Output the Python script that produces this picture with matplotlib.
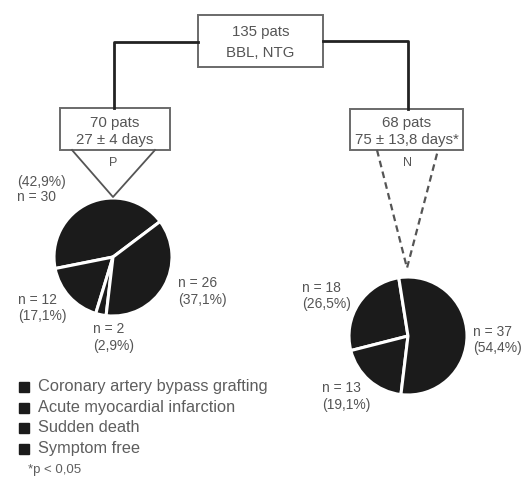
import matplotlib
matplotlib.use("Agg")
import matplotlib.pyplot as plt
from matplotlib.patches import Rectangle

plt.rcParams['font.family'] = ['Liberation Sans', 'DejaVu Sans']

# patient counts per outcome
outcomes = ["Coronary artery bypass grafting", "Acute myocardial infarction",
            "Sudden death", "Symptom free"]
left_n = [30, 12, 2, 26]
right_n = [18, 13, 37]
top_box = ["135 pats", "BBL, NTG"]
left_box = ["70 pats", "27 ± 4 days"]
right_box = ["68 pats", "75 ± 13,8 days*"]
footnote = "*p < 0,05"

W, H = 522, 487
TXT = "#555555"
PIE = "#1b1b1b"


def Y(y):
    return H - y


def pct(n, total):
    return "(" + f"{100 * n / total:.1f}".replace(".", ",") + "%)"


fig = plt.figure(figsize=(W / 100, H / 100), dpi=100)
ax = fig.add_axes([0, 0, 1, 1])


def box(x0, y0, x1, y1, lines, ty):
    ax.add_patch(Rectangle((x0, Y(y1)), x1 - x0, y1 - y0, fill=False,
                           ec="#6a6a6a", lw=1.4))
    for t, yy in zip(lines, ty):
        ax.text((x0 + x1) / 2, Y(yy), t, ha="center", va="center",
                fontsize=10.8, color=TXT)


box(198, 15, 323, 67, top_box, [32, 53])
box(60, 108, 170, 150, left_box, [123, 140])
box(350, 109, 463, 150, right_box, [123, 140])

# connectors from the top box
ax.plot([198, 114, 114], [Y(42), Y(42), Y(108)], color="#222", lw=2)
ax.plot([323, 408, 408], [Y(41), Y(41), Y(109)], color="#222", lw=2)

# arrows down to the pies
ax.plot([72, 113, 155], [Y(150), Y(197), Y(150)], color="#555", lw=1.3)
ax.plot([377, 407, 438], [Y(150), Y(268), Y(150)], color="#555", lw=1.6,
        ls=(0, (3, 2)))
ax.text(113, Y(163), "P", ha="center", va="center", fontsize=9, color=TXT)
ax.text(407, Y(163), "N", ha="center", va="center", fontsize=9, color=TXT)

# pies
ax.pie(left_n, center=(113, Y(257)), radius=59, startangle=37,
       colors=[PIE] * len(left_n), frame=True,
       wedgeprops=dict(edgecolor="white", linewidth=2.2))
ax.pie(right_n, center=(408, Y(336)), radius=59, startangle=99,
       colors=[PIE] * len(right_n), frame=True,
       wedgeprops=dict(edgecolor="white", linewidth=2.2))

lt, rt = sum(left_n), sum(right_n)
left_lab = [(17, 182, 197, True), (18, 300, 316, False),
            (93, 329, 346, False), (178, 283, 300, False)]
for n, (x, y1, y2, swap) in zip(left_n, left_lab):
    a, b = f"n = {n}", pct(n, lt)
    if swap:
        a, b = b, a
    ax.text(x, Y(y1), a, ha="left", va="center", fontsize=10, color=TXT)
    ax.text(x, Y(y2), b, ha="left", va="center", fontsize=10, color=TXT)

right_lab = [(302, 288, 304), (322, 388, 405), (473, 332, 348)]
for n, (x, y1, y2) in zip(right_n, right_lab):
    ax.text(x, Y(y1), f"n = {n}", ha="left", va="center", fontsize=10, color=TXT)
    ax.text(x, Y(y2), pct(n, rt), ha="left", va="center", fontsize=10, color=TXT)

# legend
for i, name in enumerate(outcomes):
    yy = 387 + i * 20.5
    ax.add_patch(Rectangle((19, Y(yy) - 5), 10, 10, color=PIE))
    ax.text(38, Y(yy), name, ha="left", va="center", fontsize=11.8, color="#5e5e5e")
ax.text(28, Y(470), footnote, ha="left", va="center", fontsize=9.5, color="#5e5e5e")

ax.set_xlim(0, W)
ax.set_ylim(0, H)
ax.set_aspect("auto")
ax.axis("off")

fig.savefig("out.png", dpi=100, facecolor="white")
